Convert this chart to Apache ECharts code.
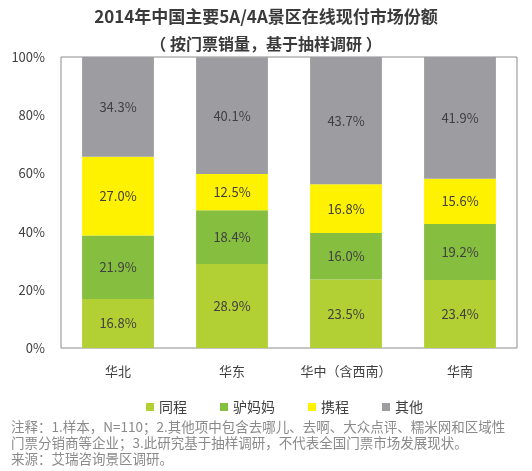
<!DOCTYPE html>
<html>
<head>
<meta charset="utf-8">
<script src="https://cdn.jsdelivr.net/npm/echarts@6/dist/echarts.min.js"></script>
<style>
  html, body { margin: 0; padding: 0; background: #fff; }
  #chart { width: 532px; height: 471px; }
</style>
</head>
<body>
<div id="chart"></div>
<script>
const regions = ['华北', '华东', '华中（含西南）', '华南']
const tongcheng = [16.8, 28.9, 23.5, 23.4]
const lvmama = [21.9, 18.4, 16.0, 19.2]
const xiecheng = [27.0, 12.5, 16.8, 15.6]
const others = [34.3, 40.1, 43.7, 41.9]
const notes = [
  '注释：1.样本，N=110；2.其他项中包含去哪儿、去啊、大众点评、糯米网和区域性',
  '门票分销商等企业；3.此研究基于抽样调研，不代表全国门票市场发展现状。',
  '来源：艾瑞咨询景区调研。',
]

const font = '"Noto Sans CJK SC", "Noto Sans", sans-serif'
const label = {
  show: true,
  position: 'inside',
  color: '#404040',
  fontSize: 13,
  fontFamily: font,
  formatter: (p) => p.value.toFixed(1) + '%',
}
const bar = (name, data, color) => ({
  name,
  type: 'bar',
  stack: 'total',
  barWidth: '63%',
  data,
  label,
  itemStyle: { color },
})

const chart = echarts.init(document.getElementById('chart'))
chart.setOption({
  animation: false,
  textStyle: { fontFamily: font },
  title: [
    {
      text: '2014年中国主要5A/4A景区在线现付市场份额',
      left: 'center',
      top: 3,
      textStyle: { fontSize: 17, fontWeight: 'bold', color: '#3a3a3a', fontFamily: font },
    },
    {
      text: '（ 按门票销量，基于抽样调研 ）',
      left: 'center',
      top: 31,
      textStyle: { fontSize: 16, fontWeight: 'bold', color: '#3a3a3a', fontFamily: font },
    },
    {
      text: notes.join('\n'),
      left: 6,
      top: 414,
      textStyle: { fontSize: 13.5, fontWeight: 'normal', color: '#8a8a8a', lineHeight: 16, fontFamily: font },
    },
  ],
  legend: {
    top: 395,
    left: 141,
    itemWidth: 8,
    itemHeight: 8,
    itemGap: 33,
    icon: 'rect',
    textStyle: { fontSize: 14, color: '#404040', fontFamily: font },
    data: ['同程', '驴妈妈', '携程', '其他'],
  },
  grid: {
    left: 61,
    right: 15,
    top: 57,
    bottom: 123,
    show: true,
    borderColor: '#8c8c8c',
    borderWidth: 1,
  },
  xAxis: {
    type: 'category',
    data: regions,
    axisLine: { show: false },
    axisTick: { show: false },
    axisLabel: { fontSize: 13, color: '#404040', margin: 17, interval: 0 },
  },
  yAxis: {
    type: 'value',
    min: 0,
    max: 100,
    interval: 20,
    axisLine: { show: false },
    axisTick: { show: false },
    splitLine: { show: false },
    axisLabel: { fontSize: 13, color: '#404040', margin: 16, formatter: '{value}%' },
  },
  series: [
    bar('同程', tongcheng, '#b2cf33'),
    bar('驴妈妈', lvmama, '#86bf40'),
    bar('携程', xiecheng, '#fff200'),
    bar('其他', others, '#9d9ca1'),
  ],
})
</script>
</body>
</html>
